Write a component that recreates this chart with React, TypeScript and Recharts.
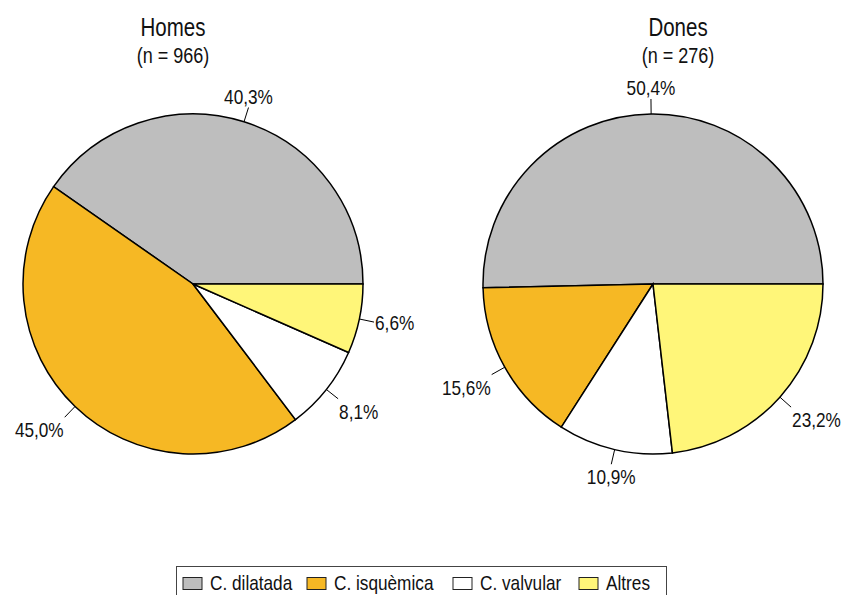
import React from 'react';
import { PieChart, Pie, Cell, Legend } from 'recharts';

const categories = ['C. dilatada', 'C. isquèmica', 'C. valvular', 'Altres'];
const homesValues = [40.3, 45.0, 8.1, 6.6];
const donesValues = [50.4, 15.6, 10.9, 23.2];
const colors = ['#BEBEBE', '#F6B824', '#FFFFFF', '#FFF679'];

// x offsets of legend swatches inside the legend box
const legendOffsets = [7, 131, 277, 403];

const FONT = '"Liberation Sans", Arial, sans-serif';
const NARROW = 0.82;
const RADIAN = Math.PI / 180;

const homesData = categories.map((name, i) => ({ name, value: homesValues[i] }));
const donesData = categories.map((name, i) => ({ name, value: donesValues[i] }));

const NarrowText = ({ x, y, size, anchor = 'start', children }: any) => (
  <text
    transform={`translate(${x},${y}) scale(${NARROW},1)`}
    x={0}
    y={0}
    textAnchor={anchor}
    fontFamily={FONT}
    fontSize={size}
    fill="#111"
  >
    {children}
  </text>
);

const renderLabel = (props: any) => {
  const { cx, cy, midAngle, outerRadius, value } = props;
  const c = Math.cos(midAngle * RADIAN);
  const s = Math.sin(midAngle * RADIAN);
  const x0 = cx + outerRadius * c;
  const y0 = cy - outerRadius * s;
  const x1 = cx + (outerRadius + 15) * c;
  const y1 = cy - (outerRadius + 15) * s;
  const anchor = c > 0.35 ? 'start' : c < -0.35 ? 'end' : 'middle';
  const tx = anchor === 'start' ? x1 + 1 : anchor === 'end' ? x1 - 1 : x1;
  let ty = y1 + 7.5;
  if (s > 0.35) ty = y1 - 4;
  else if (s < -0.35) ty = y1 + 5 + 15;
  return (
    <g>
      <line x1={x0} y1={y0} x2={x1} y2={y1} stroke="#000" strokeWidth={1} />
      <NarrowText x={tx} y={ty} size={21} anchor={anchor}>
        {value.toFixed(1).replace('.', ',') + '%'}
      </NarrowText>
    </g>
  );
};

const renderLegend = () => (
  <svg width={491} height={40} style={{ display: 'block' }}>
    <rect x={0.5} y={0.5} width={490} height={45} fill="#fff" stroke="#444" strokeWidth={1} />
    {categories.map((name, i) => (
      <g key={name}>
        <rect x={legendOffsets[i]} y={11.5} width={19} height={12} fill={colors[i]} stroke="#222" strokeWidth={1} />
        <NarrowText x={legendOffsets[i] + 27} y={24} size={21}>
          {name}
        </NarrowText>
      </g>
    ))}
  </svg>
);

export default function App() {
  return (
    <div style={{ position: 'absolute', left: 0, top: 0, width: 844, height: 595, background: '#fff', overflow: 'hidden' }}>
      <PieChart width={844} height={595} margin={{ top: 0, right: 0, bottom: 0, left: 0 }}>
        <NarrowText x={173} y={36} size={25} anchor="middle">Homes</NarrowText>
        <NarrowText x={173} y={63} size={22} anchor="middle">(n = 966)</NarrowText>
        <NarrowText x={678} y={36} size={25} anchor="middle">Dones</NarrowText>
        <NarrowText x={678} y={63} size={22} anchor="middle">(n = 276)</NarrowText>
        <Pie
          data={homesData}
          dataKey="value"
          cx={193}
          cy={284}
          outerRadius={170}
          startAngle={0}
          endAngle={360}
          stroke="#000"
          strokeWidth={1.5}
          label={renderLabel}
          labelLine={false}
          isAnimationActive={false}
        >
          {homesData.map((d, i) => (
            <Cell key={d.name} fill={colors[i]} />
          ))}
        </Pie>
        <Pie
          data={donesData}
          dataKey="value"
          cx={653}
          cy={284}
          outerRadius={170}
          startAngle={0}
          endAngle={360}
          stroke="#000"
          strokeWidth={1.5}
          label={renderLabel}
          labelLine={false}
          isAnimationActive={false}
        >
          {donesData.map((d, i) => (
            <Cell key={d.name} fill={colors[i]} />
          ))}
        </Pie>
        <Legend content={renderLegend} wrapperStyle={{ position: 'absolute', left: 176, top: 566, width: 491 }} />
      </PieChart>
    </div>
  );
}
